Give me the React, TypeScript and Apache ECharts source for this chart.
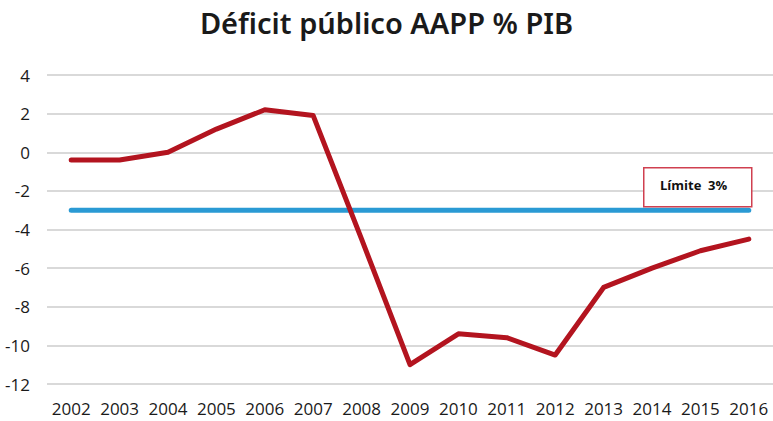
import React, { useEffect, useRef } from "react";
import * as echarts from "echarts";

const years = ["2002","2003","2004","2005","2006","2007","2008","2009","2010","2011","2012","2013","2014","2015","2016"];
const deficit = [-0.4, -0.4, 0.0, 1.2, 2.2, 1.9, -4.5, -11.0, -9.4, -9.6, -10.5, -7.0, -6.0, -5.1, -4.5];
const limit = [-3, -3, -3, -3, -3, -3, -3, -3, -3, -3, -3, -3, -3, -3, -3];

export default function App() {
  const ref = useRef<HTMLDivElement>(null);
  useEffect(() => {
    const chart = echarts.init(ref.current!, null, { renderer: "svg" });
    const font = "'Open Sans', 'Noto Sans', sans-serif";
    chart.setOption({
      animation: false,
      backgroundColor: "#ffffff",
      title: {
        text: "Déficit público AAPP % PIB",
        left: "center",
        top: 3,
        textStyle: { fontFamily: "'Noto Sans', sans-serif", fontSize: 29, fontWeight: 600, color: "#1a1a1a" },
      },
      grid: { left: 47, right: 0, top: 75, bottom: 37 },
      xAxis: {
        type: "category",
        data: years,
        boundaryGap: true,
        axisLine: { show: false },
        axisTick: { show: false },
        axisLabel: { fontFamily: font, fontSize: 17, color: "#1a1a1a", margin: 16, interval: 0 },
      },
      yAxis: {
        type: "value",
        min: -12,
        max: 4,
        interval: 2,
        axisLine: { show: false },
        axisTick: { show: false },
        axisLabel: { fontFamily: font, fontSize: 17, color: "#1a1a1a", margin: 17 },
        splitLine: { lineStyle: { color: "#d9d9d9", width: 2 } },
      },
      series: [
        {
          type: "line",
          data: limit,
          symbol: "none",
          lineStyle: { color: "#2a9ad4", width: 5, cap: "round" },
          z: 2,
        },
        {
          type: "line",
          data: deficit,
          symbol: "none",
          lineStyle: { color: "#b3141f", width: 5, cap: "round", join: "round" },
          z: 3,
        },
      ],
      graphic: [
        {
          type: "rect",
          left: 643,
          top: 167,
          shape: { width: 108, height: 39 },
          style: { fill: "#ffffff", stroke: "#d04050", lineWidth: 1.5 },
          z: 10,
        },
        {
          type: "text",
          left: 660,
          top: 178,
          style: { text: "Límite  3%", fontFamily: font, fontSize: 13, fontWeight: "bold", fill: "#111" },
          z: 11,
        },
      ],
    });
    return () => chart.dispose();
  }, []);
  return <div ref={ref} style={{ width: 773, height: 421, position: "absolute", left: 0, top: 0 }} />;
}
